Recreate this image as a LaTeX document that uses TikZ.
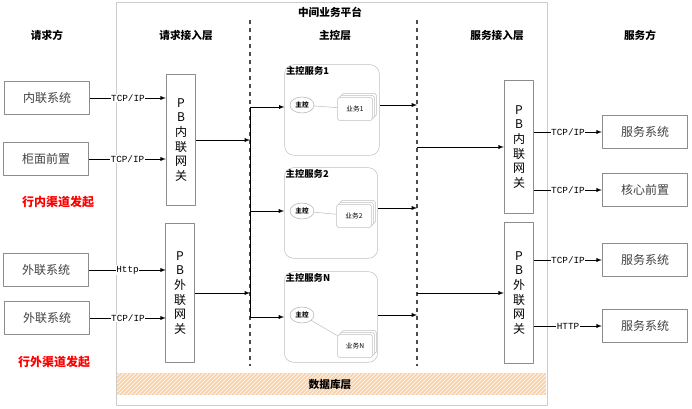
\documentclass[tikz,border=0pt]{standalone}
\usepackage{fontspec}
\setmainfont{Noto Sans CJK SC}
\newfontfamily\protofont{Liberation Mono}
\usepackage{tikz}
\usetikzlibrary{arrows,shapes,patterns}
\begin{document}
\begin{tikzpicture}[x=0.75pt,y=-0.75pt,>=latex,line join=bevel,
  sysbox/.style={draw=black!45,thick,minimum width=64pt,minimum height=25pt,font=\small,text=black!75},
  gwbox/.style={draw=black!45,thick,minimum width=22pt,align=center,font=\small,inner sep=1pt},
  svcbox/.style={draw=black!25,rounded corners=7pt},
  ctrl/.style={draw=black!30,ellipse,minimum width=18pt,minimum height=12pt,inner sep=0pt,font=\tiny\bfseries},
  biz/.style={draw=black!25,fill=white,minimum width=26pt,minimum height=17pt,inner sep=0pt,font=\tiny,rounded corners=1pt},
  head/.style={font=\footnotesize\bfseries},
  proto/.style={fill=white,inner sep=0.5pt,font=\protofont\scriptsize}]
%%
  \path[use as bounding box] (0,0) rectangle (692,409);
  \draw[black!20] (116,2) rectangle (547,405);
  \node[head] (title) at (330,12) {中间业务平台};
  \node[head] (req) at (47,35) {请求方};
  \node[head] (reqin) at (186,35) {请求接入层};
  \node[head] (main) at (335,35) {主控层};
  \node[head] (srvin) at (497,35) {服务接入层};
  \node[head] (srv) at (640,35) {服务方};
  \draw[dashed,thick,black!70] (250,20) -- (250,366);
  \draw[dashed,thick,black!70] (417,20) -- (417,366);
  % request side
  \node[sysbox] (inner) at (47,98) {内联系统};
  \node[sysbox] (counter) at (46,159) {柜面前置};
  \node[sysbox] (outer_a) at (46,270) {外联系统};
  \node[sysbox] (outer_b) at (47,318) {外联系统};
  \node[text=red,font=\small\bfseries] (in_label) at (58,202) {行内渠道发起};
  \node[text=red,font=\small\bfseries] (out_label) at (54,362) {行外渠道发起};
  \node[gwbox,minimum height=98pt] (gw_in) at (181,140) {P\\B\\内\\联\\网\\关};
  \node[gwbox,minimum height=104pt] (gw_out) at (180,293) {P\\B\\外\\联\\网\\关};
  \draw[->] (inner) -- node[proto] {TCP/IP} (inner -| gw_in.west);
  \draw[->] (counter) -- node[proto] {TCP/IP} (counter -| gw_in.west);
  \draw[->] (outer_a) -- node[proto] {Http} (outer_a -| gw_in.west);
  \draw[->] (outer_b) -- node[proto] {TCP/IP} (outer_b -| gw_in.west);
  \coordinate (in_hit) at (250,140);
  \coordinate (out_hit) at (250,293);
  \draw[->] (gw_in.east |- in_hit) -- (in_hit);
  \draw[->] (gw_out.east |- out_hit) -- (out_hit);
  % main control layer
  \node[svcbox,minimum width=71pt,minimum height=68pt] (svc1) at (332,110) {};
  \node[svcbox,minimum width=70pt,minimum height=68pt] (svc2) at (331,213) {};
  \node[svcbox,minimum width=70pt,minimum height=68pt] (svcn) at (331,317) {};
  \node[font=\scriptsize\bfseries,anchor=north west,inner sep=1pt] (svc1_t) at (svc1.north west) {主控服务1};
  \node[font=\scriptsize\bfseries,anchor=north west,inner sep=1pt] (svc2_t) at (svc2.north west) {主控服务2};
  \node[font=\scriptsize\bfseries,anchor=north west,inner sep=1pt] (svcn_t) at (svcn.north west) {主控服务N};
  \node[ctrl] (ctrl1) at (302,105) {主控};
  \node[ctrl] (ctrl2) at (302,211) {主控};
  \node[ctrl] (ctrln) at (302,315) {主控};
  \foreach \n/\x/\y in {1/355/109,2/354/216,N/355/346}{
    \node[biz] at (\x+4,\y-4) {};
    \node[biz] at (\x+2,\y-2) {};
    \node[biz] (biz\n) at (\x,\y) {业务\n};
  }
  \draw[black!25] (ctrl1) -- (biz1);
  \draw[black!25] (ctrl2) -- (biz2);
  \draw[black!25] (ctrln) -- (bizN);
  \draw (250,107) -- (250,317);
  \draw[->] (250,107) -- (svc1.west |- 0,107);
  \draw[->] (250,211) -- (svc2.west |- 0,211);
  \draw[->] (250,317) -- (svcn.west |- 0,317);
  \draw[->] (svc1.east |- 0,105) -- (417,105);
  \draw[->] (svc2.east |- 0,208) -- (417,208);
  \draw[->] (svcn.east |- 0,315) -- (417,315);
  % service access layer
  \node[gwbox,minimum height=100pt] (gw_in_r) at (519,147) {P\\B\\内\\联\\网\\关};
  \node[gwbox,minimum height=106pt] (gw_out_r) at (519,293) {P\\B\\外\\联\\网\\关};
  \draw[->] (417,147) -- (gw_in_r.west |- 0,147);
  \draw[->] (417,293) -- (gw_out_r.west |- 0,293);
  \node[sysbox] (srv_a) at (645,132) {服务系统};
  \node[sysbox] (core) at (645,190) {核心前置};
  \node[sysbox] (srv_b) at (645,260) {服务系统};
  \node[sysbox] (srv_c) at (645,326) {服务系统};
  \draw[->] (gw_in_r.east |- srv_a) -- node[proto] {TCP/IP} (srv_a);
  \draw[->] (gw_in_r.east |- core) -- node[proto] {TCP/IP} (core);
  \draw[->] (gw_out_r.east |- srv_b) -- node[proto] {TCP/IP} (srv_b);
  \draw[->] (gw_out_r.east |- srv_c) -- node[proto] {HTTP} (srv_c);
  % database layer
  \fill[orange!35] (117,373) rectangle (546,395);
  \fill[pattern=north east lines,pattern color=white] (117,373) rectangle (546,395);
  \node[font=\footnotesize\bfseries] (db) at (330,384) {数据库层};
%
\end{tikzpicture}
\end{document}
